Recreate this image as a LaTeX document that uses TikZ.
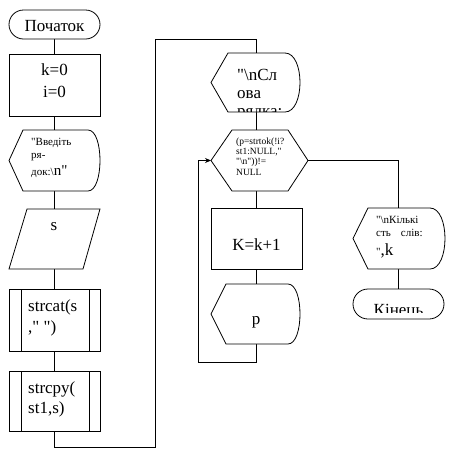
\documentclass[tikz,border=0pt]{standalone}
\usepackage{fontspec}
\setmainfont{Liberation Serif}[Ligatures=Common]
\newfontfamily\tms{Liberation Serif}[Ligatures=Common]
\usetikzlibrary{arrows.meta}
\newcommand{\qq}{\textquotedbl}
\begin{document}
\begin{tikzpicture}[x=1pt,y=-1pt,
  shp/.style={draw=black,line width=0.8pt,fill=white},
  conn/.style={draw=black,line width=0.8pt},
  big/.style={font=\tms\fontsize{17}{19}\selectfont,inner sep=0pt},
  mid/.style={font=\tms\fontsize{11}{12}\selectfont,inner sep=0pt},
  sml/.style={font=\tms\fontsize{9.5}{10}\selectfont,inner sep=0pt},
]
\useasboundingbox (0,0) rectangle (467,467);
% connection points
\coordinate (s1) at (54.5,39);
\coordinate (i1) at (54.5,54);
\coordinate (i2) at (54.5,116);
\coordinate (d1t) at (54.5,130);
\coordinate (d1b) at (54.5,191);
\coordinate (pt) at (54.5,209);
\coordinate (pb) at (54.5,269);
\coordinate (c1t) at (54.5,289);
\coordinate (c1b) at (54.5,351);
\coordinate (c2t) at (54.5,371);
\coordinate (c2b) at (54.5,431);
\coordinate (lp1) at (54.5,447);
\coordinate (lp2) at (155,447);
\coordinate (lp3) at (155,39);
\coordinate (lp4) at (256,39);
\coordinate (d2t) at (256,53);
\coordinate (d2b) at (256,112);
\coordinate (ht) at (256,130);
\coordinate (hb) at (256,191);
\coordinate (hl) at (211,160.5);
\coordinate (hr) at (308,160.5);
\coordinate (kt) at (256,208);
\coordinate (kb) at (256,269);
\coordinate (dpt) at (256,284);
\coordinate (dpb) at (256,344);
\coordinate (bl1) at (256,362);
\coordinate (bl2) at (198,362);
\coordinate (bl3) at (198,160.5);
\coordinate (rr) at (398,160.5);
\coordinate (d3t) at (398,208);
\coordinate (d3b) at (398,269);
\coordinate (et) at (398,289);
% connectors
\draw[conn] (s1) -- (i1);
\draw[conn] (i2) -- (d1t);
\draw[conn] (d1b) -- (pt);
\draw[conn] (pb) -- (c1t);
\draw[conn] (c1b) -- (c2t);
\draw[conn] (c2b) -- (lp1) -- (lp2) -- (lp3) -- (lp4) -- (d2t);
\draw[conn] (d2b) -- (ht);
\draw[conn] (hb) -- (kt);
\draw[conn] (kb) -- (dpt);
\draw[conn,-{Stealth[length=6pt,width=5pt]}] (dpb) -- (bl1) -- (bl2) -- (bl3) -- (hl);
\draw[conn] (hr) -- (rr) -- (d3t);
\draw[conn] (d3b) -- (et);
% start
\draw[shp,rounded corners=14.5pt] (9,10) rectangle (100,39);
\node[big,anchor=base] (tstart) at (54.5,31) {Початок};
% init
\draw[shp] (9,54) rectangle (100,116);
\node[big,anchor=base] (tk) at (54.5,75) {k=0};
\node[big,anchor=base] (ti) at (54.5,97) {i=0};
% display 1
\draw[shp] (9,160.5) -- (23,130) -- (88,130) .. controls (104,130) and (104,191) .. (88,191) -- (23,191) -- cycle;
\node[mid,anchor=base west] (v1) at (31,145) {\qq Введіть};
\node[mid,anchor=base west] (v2) at (31,158) {ря-};
\node[mid,anchor=base west] (v3) at (31,175) {док:\textbackslash{\fontsize{15}{15}\selectfont n\qq}};
% input
\draw[shp] (27,209) -- (100,209) -- (83,269) -- (9,269) -- cycle;
\node[big,anchor=base] (ts) at (54,230) {s};
% predefined 1
\draw[shp] (9,289) rectangle (100,351);
\draw[shp] (21,289) -- (21,351);
\draw[shp] (89,289) -- (89,351);
\node[big,anchor=base west] (sc1) at (28,311) {strcat(s};
\node[big,anchor=base west] (sc2) at (28,332) {,\qq{} \qq)};
% predefined 2
\draw[shp] (9,371) rectangle (100,431);
\draw[shp] (21,371) -- (21,431);
\draw[shp] (89,371) -- (89,431);
\node[big,anchor=base west] (sp1) at (28,393) {strcpy(};
\node[big,anchor=base west] (sp2) at (28,413) {st1,s)};
% display 2
\draw[shp] (211,82.5) -- (228,53) -- (285,53) .. controls (305,53) and (305,112) .. (285,112) -- (228,112) -- cycle;
\begin{scope}
\clip (211,53) rectangle (300,111);
\node[big,anchor=base west] (w1) at (237,80) {\qq\textbackslash nСл};
\node[big,anchor=base west] (w2) at (237,98) {ова};
\node[big,anchor=base west] (w3) at (237,116) {рядка:};
\end{scope}
% decision hexagon
\draw[shp] (211,160.5) -- (232,130) -- (288,130) -- (308,160.5) -- (288,191) -- (232,191) -- cycle;
\node[sml,anchor=base west] (h1) at (236,144) {(p=strtok(!i?};
\node[sml,anchor=base west] (h2) at (236,154) {st1:NULL,\qq};
\node[sml,anchor=base west] (h3) at (236,164.5) {\qq\textbackslash n\qq))!=};
\node[sml,anchor=base west] (h4) at (236,175) {NULL};
% K=k+1
\draw[shp] (211,208) rectangle (302,269);
\node[big,anchor=base] (tkk) at (256.5,250) {K=k+1};
% display p
\draw[shp] (211,314) -- (226,284) -- (288,284) .. controls (304,284) and (304,344) .. (288,344) -- (226,344) -- cycle;
\node[big,anchor=base] (tp) at (256,324) {p};
% display 3
\draw[shp] (353,238.5) -- (368,208) -- (430,208) .. controls (450,208) and (450,269) .. (430,269) -- (368,269) -- cycle;
\node[mid,anchor=base west] (q1) at (376,223) {\qq\textbackslash nКількі};
\node[mid,anchor=base west] (q2) at (376,236) {сть\hspace{10pt}слів:};
\node[mid,anchor=base west] (q3) at (376,255) {\qq{\fontsize{17}{17}\selectfont,k}};
% end
\draw[shp,rounded corners=15pt] (353,289) rectangle (444,319);
\begin{scope}
\clip (353,289) rectangle (444,312);
\node[big,anchor=base] (tend) at (398.5,315) {Кінець};
\end{scope}
\end{tikzpicture}
\end{document}
